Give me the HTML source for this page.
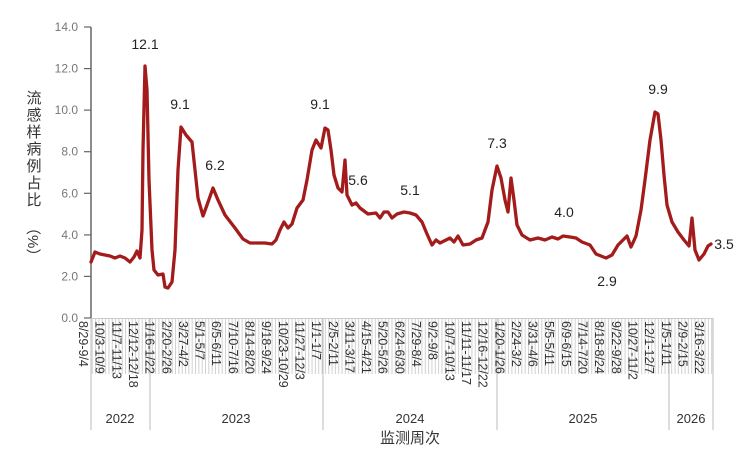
<!DOCTYPE html>
<html><head><meta charset="utf-8"><style>
html,body{margin:0;padding:0;background:#fff;}
svg{display:block;font-family:"Liberation Sans","Noto Sans CJK SC",sans-serif;}
</style></head><body>
<svg width="738" height="456" viewBox="0 0 738 456" xmlns="http://www.w3.org/2000/svg">
<defs>
<pattern id="tk" x="81.8" y="0" width="3.33" height="456" patternUnits="userSpaceOnUse">
<rect x="0" y="0" width="1" height="456" fill="#d0d0d0"/>
</pattern>
</defs>
<rect x="91" y="318" width="622" height="56" fill="url(#tk)"/>
<line x1="91" y1="27" x2="91" y2="318" stroke="#666" stroke-width="1.5"/>
<line x1="91" y1="318.5" x2="713" y2="318.5" stroke="#ccc" stroke-width="1"/>
<g stroke="#666" stroke-width="1.2">
<line x1="84" y1="27" x2="91" y2="27"/><line x1="84" y1="68.6" x2="91" y2="68.6"/><line x1="84" y1="110.1" x2="91" y2="110.1"/><line x1="84" y1="151.7" x2="91" y2="151.7"/><line x1="84" y1="193.3" x2="91" y2="193.3"/><line x1="84" y1="234.9" x2="91" y2="234.9"/><line x1="84" y1="276.4" x2="91" y2="276.4"/><line x1="84" y1="318" x2="91" y2="318"/>
</g>
<g fill="#777" font-size="12" text-anchor="end">
<text x="78" y="31">14.0</text><text x="78" y="72.6">12.0</text><text x="78" y="114.1">10.0</text><text x="78" y="155.7">8.0</text><text x="78" y="197.3">6.0</text><text x="78" y="238.9">4.0</text><text x="78" y="280.4">2.0</text><text x="78" y="322">0.0</text>
</g>
<g font-size="15" fill="#333" text-anchor="middle">
<text x="34" y="103">流</text><text x="34" y="120">感</text><text x="34" y="137">样</text><text x="34" y="154">病</text><text x="34" y="171">例</text><text x="34" y="188">占</text><text x="34" y="205">比</text>
</g>
<text transform="translate(28,220) rotate(90)" font-size="15" fill="#333">（%）</text>
<g stroke="#bbb" stroke-width="1">
<line x1="91" y1="318" x2="91" y2="430"/><line x1="150" y1="318" x2="150" y2="430"/><line x1="323" y1="318" x2="323" y2="430"/><line x1="497" y1="318" x2="497" y2="430"/><line x1="669" y1="318" x2="669" y2="430"/><line x1="713" y1="318" x2="713" y2="430"/>
</g>
<g font-size="12.5" fill="#333">
<text transform="translate(79,321) rotate(90)">8/29-9/4</text>
<text transform="translate(95.65,321) rotate(90)">10/3-10/9</text>
<text transform="translate(112.3,321) rotate(90)">11/7-11/13</text>
<text transform="translate(128.95,321) rotate(90)">12/12-12/18</text>
<text transform="translate(145.6,321) rotate(90)">1/16-1/22</text>
<text transform="translate(162.25,321) rotate(90)">2/20-2/26</text>
<text transform="translate(178.9,321) rotate(90)">3/27-4/2</text>
<text transform="translate(195.55,321) rotate(90)">5/1-5/7</text>
<text transform="translate(212.2,321) rotate(90)">6/5-6/11</text>
<text transform="translate(228.85,321) rotate(90)">7/10-7/16</text>
<text transform="translate(245.5,321) rotate(90)">8/14-8/20</text>
<text transform="translate(262.15,321) rotate(90)">9/18-9/24</text>
<text transform="translate(278.8,321) rotate(90)">10/23-10/29</text>
<text transform="translate(295.45,321) rotate(90)">11/27-12/3</text>
<text transform="translate(312.1,321) rotate(90)">1/1-1/7</text>
<text transform="translate(328.75,321) rotate(90)">2/5-2/11</text>
<text transform="translate(345.4,321) rotate(90)">3/11-3/17</text>
<text transform="translate(362.05,321) rotate(90)">4/15-4/21</text>
<text transform="translate(378.7,321) rotate(90)">5/20-5/26</text>
<text transform="translate(395.35,321) rotate(90)">6/24-6/30</text>
<text transform="translate(412,321) rotate(90)">7/29-8/4</text>
<text transform="translate(428.65,321) rotate(90)">9/2-9/8</text>
<text transform="translate(445.3,321) rotate(90)">10/7-10/13</text>
<text transform="translate(461.95,321) rotate(90)">11/11-11/17</text>
<text transform="translate(478.6,321) rotate(90)">12/16-12/22</text>
<text transform="translate(495.25,321) rotate(90)">1/20-1/26</text>
<text transform="translate(511.9,321) rotate(90)">2/24-3/2</text>
<text transform="translate(528.55,321) rotate(90)">3/31-4/6</text>
<text transform="translate(545.2,321) rotate(90)">5/5-5/11</text>
<text transform="translate(561.85,321) rotate(90)">6/9-6/15</text>
<text transform="translate(578.5,321) rotate(90)">7/14-7/20</text>
<text transform="translate(595.15,321) rotate(90)">8/18-8/24</text>
<text transform="translate(611.8,321) rotate(90)">9/22-9/28</text>
<text transform="translate(628.45,321) rotate(90)">10/27-11/2</text>
<text transform="translate(645.1,321) rotate(90)">12/1-12/7</text>
<text transform="translate(661.75,321) rotate(90)">1/5-1/11</text>
<text transform="translate(678.4,321) rotate(90)">2/9-2/15</text>
<text transform="translate(695.05,321) rotate(90)">3/16-3/22</text>
</g>
<g font-size="13" fill="#333" text-anchor="middle">
<text x="120" y="423">2022</text><text x="236" y="423">2023</text><text x="410" y="423">2024</text><text x="583" y="423">2025</text><text x="691" y="423">2026</text>
</g>
<text x="410" y="443" font-size="15" fill="#333" text-anchor="middle">监测周次</text>
<polyline fill="none" stroke="#a31b1b" stroke-width="3.3" stroke-linejoin="round" stroke-linecap="round" points="91,262 95,252 100,254 110,256 115,258 120,256 125,258 130,262 134,257 137,251 140,258 142,230 143,150 145,66 147,90 149,180 152,250 154,270 158,275 163,274 165,287 168,288 172,282 175,250 178,170 181,127 186,135 192,142 195,170 198,198 203,216 207,205 213,188 218,200 225,215 235,228 243,239 250,243 258,243 265,243 272,244 276,240 280,230 284,222 288,228 292,224 297,208 303,200 307,180 312,150 316,140 321,148 325,128 328,130 331,150 334,175 338,188 342,192 345,160 347,195 352,205 356,203 360,208 368,214 376,213 380,218 384,212 388,212 392,218 397,214 404,212 410,213 416,215 422,222 427,234 432,245 436,240 440,243 446,240 450,238 454,242 458,236 463,245 470,244 476,240 482,238 488,222 492,190 497,166 501,178 505,200 508,212 511,178 514,200 517,225 522,235 530,240 538,238 545,240 552,237 558,239 563,236 570,237 576,238 582,242 590,245 596,254 601,256 606,258 612,255 618,245 623,240 627,236 631,247 636,236 641,210 645,180 650,140 655,112 658,114 661,140 664,175 667,205 672,222 678,232 684,240 689,246 692,218 695,250 699,260 704,254 708,246 711,244"/>
<g font-size="14" fill="#222" text-anchor="middle">
<text x="145" y="49">12.1</text><text x="180" y="109">9.1</text><text x="215" y="170">6.2</text><text x="320" y="109">9.1</text><text x="358" y="185">5.6</text><text x="410" y="195">5.1</text><text x="497" y="148">7.3</text><text x="564" y="217">4.0</text><text x="607" y="286">2.9</text><text x="658" y="94">9.9</text><text x="724" y="249">3.5</text>
</g>
</svg>
</body></html>
